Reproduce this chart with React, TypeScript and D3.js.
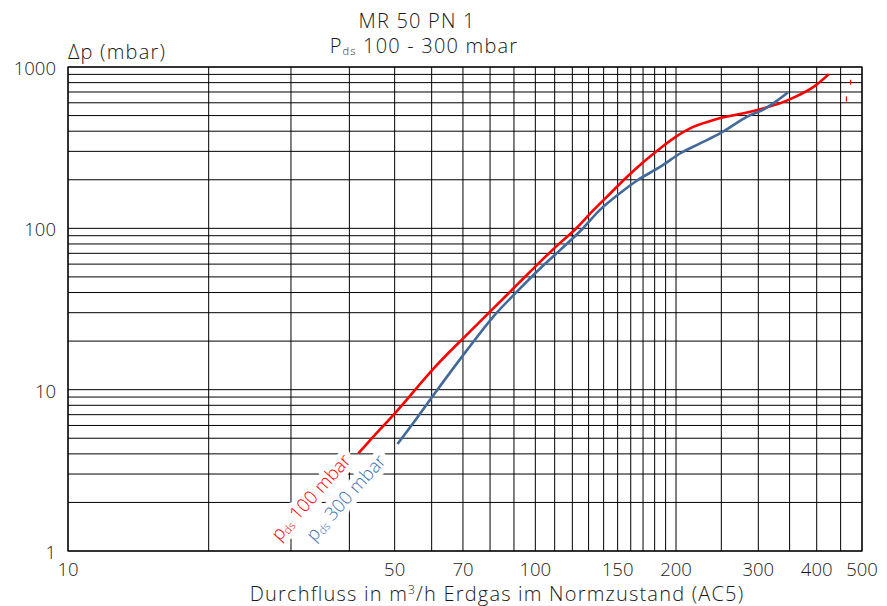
import React from "react";
import * as d3 from "d3";

const X_GRID = [10, 20, 30, 40, 50, 60, 70, 80, 90, 100, 110, 120, 130, 140, 150, 160, 170, 180, 190, 200, 250, 300, 350, 400, 450, 500];
const Y_GRID = [1, 2, 3, 4, 5, 6, 7, 8, 9, 10, 20, 30, 40, 50, 60, 70, 80, 90, 100, 200, 300, 400, 500, 600, 700, 800, 900, 1000];
const X_TICKS = [10, 50, 70, 100, 150, 200, 300, 400, 500];
const Y_TICKS = [1, 10, 100, 1000];

const RED_X = [41.8, 44.7, 50.6, 61.1, 71.2, 81.4, 92.1, 102.5, 113.1, 121.8, 133.3, 144.8, 157.2, 170.6, 185.2, 201.1, 218.3, 240.9, 261.6, 284, 308.3, 334.6, 363.5, 394.5, 424.6];
const RED_Y = [4.03, 5.0, 7.4, 13.9, 21.8, 32, 45.7, 62.2, 81.5, 98.7, 130, 165, 209, 259, 314, 374, 427, 470, 498, 522, 555, 597, 662, 756, 903];

const BLUE_X = [50.7, 55, 61.1, 71.2, 81.4, 92.1, 102.5, 113.1, 125.9, 137.8, 152.1, 165.1, 185.2, 204.4, 225.6, 248.9, 284, 308.3, 329.3, 347];
const BLUE_Y = [4.6, 6.3, 9.6, 17.4, 28.5, 41.5, 56.6, 73.5, 98.7, 131, 166, 198, 241, 292, 337, 389, 493, 547, 619, 694];

const STRAY_X = [472.7, 463];
const STRAY_Y = [805, 634];

const W = 887, H = 606;
const L = 68, R = 862, T = 67, B = 551;
const FONT = "'Open Sans', 'Noto Sans', sans-serif";

function Label({ px, py, color, text }: { px: number; py: number; color: string; text: string }) {
  const content = (
    <>
      p<tspan fontSize={11} dy={2}>ds</tspan><tspan dy={-2}>{text}</tspan>
    </>
  );
  return (
    <g transform={`translate(${px},${py}) rotate(-48)`} fontWeight={300}>
      <text textAnchor="end" fontSize={18.5} fill="#fff" stroke="#fff" strokeWidth={11} strokeLinejoin="round">{content}</text>
      <text textAnchor="end" fontSize={18.5} fill={color}>{content}</text>
    </g>
  );
}

export default function App() {
  const x = d3.scaleLog().domain([10, 500]).range([L, R]);
  const y = d3.scaleLog().domain([1, 1000]).range([B, T]);
  const line = d3.line<[number, number]>().x(d => x(d[0])).y(d => y(d[1])).curve(d3.curveCatmullRom.alpha(0.5));
  const red = RED_X.map((v, i) => [v, RED_Y[i]] as [number, number]);
  const blue = BLUE_X.map((v, i) => [v, BLUE_Y[i]] as [number, number]);
  const txt = { fontSize: 20, letterSpacing: 1.2, fill: "#1a1a1a", fontWeight: 300 } as const;
  return (
    <svg width={W} height={H} style={{ position: "absolute", left: 0, top: 0, background: "#fff" }} fontFamily={FONT}>
      <rect width={W} height={H} fill="#fff" />
      {X_GRID.map(v => (
        <line key={"gx" + v} x1={x(v)} x2={x(v)} y1={T} y2={B} stroke="#000" strokeWidth={1} />
      ))}
      {Y_GRID.map(v => (
        <line key={"gy" + v} x1={L} x2={R} y1={y(v)} y2={y(v)} stroke="#000" strokeWidth={1} />
      ))}
      <rect x={L} y={T} width={R - L} height={B - T} fill="none" stroke="#000" strokeWidth={1.2} />
      <path d={line(red) || ""} fill="none" stroke="#ff0000" strokeWidth={2.6} />
      <path d={line(blue) || ""} fill="none" stroke="#41699c" strokeWidth={2.6} />
      {STRAY_X.map((v, i) => (
        <line key={"s" + i} x1={x(v)} x2={x(v)} y1={y(STRAY_Y[i]) - 2.5} y2={y(STRAY_Y[i]) + 2.5} stroke="#ff0000" strokeWidth={1.2} />
      ))}
      <Label px={x(40.5)} py={y(3.6)} color="#ff0000" text=" 100 mbar" />
      <Label px={x(48.1)} py={y(3.58)} color="#3f73b0" text=" 300 mbar" />
      {Y_TICKS.map(v => (
        <text key={"yt" + v} x={L - 12} y={y(v) + 8} textAnchor="end" fontSize={18.5} fill="#1a1a1a" fontWeight={300}>{v}</text>
      ))}
      {X_TICKS.map(v => (
        <text key={"xt" + v} x={x(v)} y={576} textAnchor="middle" fontSize={18.5} fill="#1a1a1a" fontWeight={300}>{v}</text>
      ))}
      <text x={L} y={59} {...txt}>Δp (mbar)</text>
      <text x={417} y={28} textAnchor="middle" {...txt}>MR 50 PN 1</text>
      <text x={424} y={53} textAnchor="middle" {...txt}>
        P<tspan fontSize={11} dy={2}>ds</tspan><tspan dy={-2}> 100 - 300 mbar</tspan>
      </text>
      <text x={497} y={601} textAnchor="middle" {...txt}>
        Durchfluss in m<tspan fontSize={12} dy={-7}>3</tspan><tspan dy={7}>/h Erdgas im Normzustand (AC5)</tspan>
      </text>
    </svg>
  );
}
